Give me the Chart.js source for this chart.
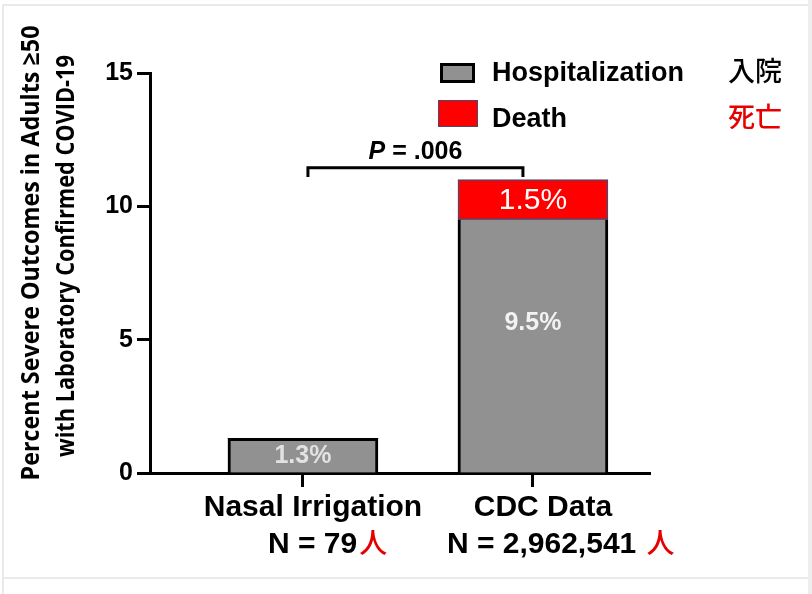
<!DOCTYPE html>
<html>
<head>
<meta charset="utf-8">
<script src="https://cdn.jsdelivr.net/npm/chart.js@4"></script>
<style>
  html, body { margin: 0; padding: 0; background: #fff; }
  canvas { display: block; }
</style>
</head>
<body>
<canvas id="chart" width="812" height="594"></canvas>
<script>
const groups = ['Nasal Irrigation', 'CDC Data'];
const sampleSizes = ['N = 79', 'N = 2,962,541 '];
const hospitalization = [1.3, 9.5];
const death = [0, 1.5];
const yTickValues = [0, 5, 10, 15];
const seriesNames = ['Hospitalization', 'Death'];
const seriesNamesJa = ['入院', '死亡'];
const pValue = '.006';
const yTitle = ['Percent Severe Outcomes in Adults ≥50', 'with Laboratory Confirmed COVID-19'];

const GRAY = '#919191';
const RED = '#ff0000';
const SANS = '"Liberation Sans", Arial, sans-serif';
const CJK = '"Noto Sans CJK JP", sans-serif';

// the drawing on top: titles, legend, p-value bracket, bar labels, group labels
const overlay = {
  id: 'overlay',
  afterDraw(chart) {
    const ctx = chart.ctx;
    const xs = chart.scales.x;
    const ys = chart.scales.y;
    ctx.save();

    // light frame of the screenshot
    ctx.strokeStyle = '#e4e4e4';
    ctx.lineWidth = 1.5;
    ctx.beginPath();
    ctx.moveTo(3, 594); ctx.lineTo(3, 5); ctx.lineTo(808, 5);
    ctx.moveTo(3, 578); ctx.lineTo(808, 578);
    ctx.stroke();
    ctx.fillStyle = '#eeeeee';
    ctx.fillRect(808, 0, 4, 594);

    // y title, two rotated lines
    ctx.fillStyle = '#000';
    ctx.textAlign = 'center';
    ctx.textBaseline = 'middle';
    ctx.font = 'bold 25px "Open Sans", sans-serif';
    ctx.save();
    ctx.translate(32, 253);
    ctx.rotate(-Math.PI / 2);
    ctx.fillText(yTitle[0], 0, 0, 455);
    ctx.restore();
    ctx.save();
    ctx.translate(67, 256);
    ctx.rotate(-Math.PI / 2);
    ctx.fillText(yTitle[1], 0, 0, 402);
    ctx.restore();

    // legend
    ctx.lineWidth = 3;
    ctx.strokeStyle = '#000';
    ctx.fillStyle = GRAY;
    ctx.fillRect(441.5, 64.5, 32, 17);
    ctx.strokeRect(441.5, 64.5, 32, 17);
    ctx.fillStyle = RED;
    ctx.fillRect(438, 100, 40, 27);
    ctx.lineWidth = 1;
    ctx.strokeStyle = '#4a4a70';
    ctx.strokeRect(438.5, 100.5, 39, 26);

    ctx.textAlign = 'left';
    ctx.textBaseline = 'alphabetic';
    ctx.fillStyle = '#000';
    ctx.font = 'bold 27px ' + SANS;
    ctx.fillText(seriesNames[0], 492, 81);
    ctx.fillText(seriesNames[1], 492, 127);
    ctx.font = '500 27px ' + CJK;
    ctx.fillText(seriesNamesJa[0], 728, 81);
    ctx.fillStyle = '#e60000';
    ctx.fillText(seriesNamesJa[1], 728, 127);

    // p-value bracket between the two groups
    const bx0 = xs.getPixelForValue(0) + 5;
    const bx1 = xs.getPixelForValue(1) - 10;
    const by = ys.getPixelForValue(11.45);
    const byEnd = ys.getPixelForValue(11.1);
    ctx.strokeStyle = '#000';
    ctx.lineWidth = 3;
    ctx.beginPath();
    ctx.moveTo(bx0, byEnd); ctx.lineTo(bx0, by); ctx.lineTo(bx1, by); ctx.lineTo(bx1, byEnd);
    ctx.stroke();
    ctx.fillStyle = '#000';
    const pFont = 'italic bold 25px ' + SANS;
    const restFont = 'bold 25px ' + SANS;
    const rest = ' = ' + pValue;
    ctx.font = pFont;
    const wP = ctx.measureText('P').width;
    ctx.font = restFont;
    const wR = ctx.measureText(rest).width;
    const px = (bx0 + bx1) / 2 - (wP + wR) / 2;
    ctx.font = pFont;
    ctx.fillText('P', px, by - 9);
    ctx.font = restFont;
    ctx.fillText(rest, px + wP, by - 9);

    // values inside the bars
    ctx.textAlign = 'center';
    ctx.textBaseline = 'middle';
    const hosMeta = chart.getDatasetMeta(0).data;
    const deathMeta = chart.getDatasetMeta(1).data;
    hosMeta.forEach((bar, i) => {
      const h = bar.base - bar.y;
      const cy = i === 0 ? bar.y + h / 2 + 1 : bar.y + h * 0.41;
      ctx.font = 'bold 25px ' + SANS;
      ctx.fillStyle = i === 0 ? '#e2e2e2' : '#f2f2f2';
      ctx.fillText(hospitalization[i] + '%', bar.x, cy);
    });
    deathMeta.forEach((bar, i) => {
      if (!death[i]) return;
      ctx.font = '30px ' + SANS;
      ctx.fillStyle = '#fff';
      ctx.fillText(death[i] + '%', bar.x, (bar.y + bar.base) / 2 + 1);
    });

    // group labels under the axis
    ctx.textBaseline = 'alphabetic';
    groups.forEach((g, i) => {
      const tx = xs.getPixelForValue(i);
      ctx.fillStyle = '#000';
      ctx.textAlign = 'center';
      ctx.font = 'bold 30px ' + SANS;
      ctx.fillText(g, tx + 10, 516);
      ctx.textAlign = 'left';
      const w = ctx.measureText(sampleSizes[i]).width;
      const startX = i === 0 ? tx - 35 : tx - 86;
      ctx.fillText(sampleSizes[i], startX, 553);
      ctx.font = '500 28px ' + CJK;
      ctx.fillStyle = '#e60000';
      ctx.fillText('人', startX + w + 2, 553);
    });

    ctx.restore();
  }
};

const ctx = document.getElementById('chart');

const mainChart = new Chart(ctx, {
  type: 'bar',
  data: {
    datasets: [{
      label: seriesNames[0],
      data: hospitalization.map((v, i) => ({ x: i, y: v })),
      backgroundColor: GRAY,
      borderColor: '#000',
      borderWidth: (c) => ({ top: death[c.dataIndex] ? 0 : 3, left: 3, right: 3, bottom: 0 }),
      borderSkipped: false,
      barThickness: 150
    }, {
      label: seriesNames[1],
      data: death.map((v, i) => ({ x: i, y: v })),
      backgroundColor: RED,
      borderColor: '#4a4a70',
      borderWidth: (c) => (death[c.dataIndex] ? 1.5 : 0),
      borderSkipped: false,
      barThickness: 150
    }]
  },
  options: {
    responsive: false,
    animation: false,
    devicePixelRatio: 1,
    layout: { padding: { left: 0, top: 73, right: 162, bottom: 0 } },
    plugins: {
      legend: { display: false },
      tooltip: { enabled: false }
    },
    scales: {
      x: {
        type: 'linear',
        stacked: true,
        offset: false,
        min: -0.665,
        max: 1.509,
        z: 1,
        afterBuildTicks: (scale) => { scale.ticks = groups.map((g, i) => ({ value: i })); },
        afterFit: (scale) => { scale.height = 121; },
        ticks: { display: false },
        grid: {
          offset: false,
          drawOnChartArea: false,
          drawTicks: true,
          tickLength: 14,
          tickWidth: 3,
          tickColor: '#000'
        },
        border: { display: true, color: '#000', width: 3 }
      },
      y: {
        stacked: true,
        min: 0,
        max: 15,
        afterBuildTicks: (scale) => { scale.ticks = yTickValues.map(v => ({ value: v })); },
        afterFit: (scale) => { scale.width = 150; },
        ticks: {
          color: '#000',
          padding: 4,
          font: { family: SANS, size: 25, weight: 'bold' }
        },
        grid: {
          drawOnChartArea: false,
          drawTicks: true,
          tickLength: 13,
          tickWidth: 3,
          tickColor: '#000'
        },
        border: { display: true, color: '#000', width: 3 }
      }
    }
  },
  plugins: [overlay]
});
</script>
</body>
</html>
